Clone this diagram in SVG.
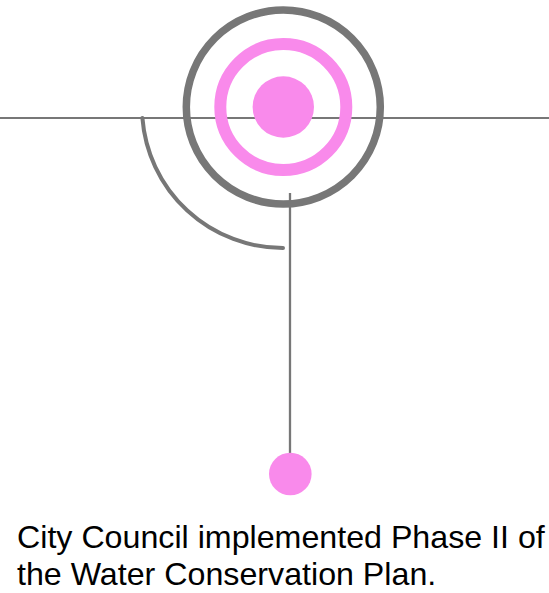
<svg xmlns="http://www.w3.org/2000/svg" width="549" height="593" viewBox="0 0 549 593">
<style>
.ln{stroke:#777;fill:none}
.pk{fill:#F98AEB}
.tx{font-family:"Liberation Sans",Arial,sans-serif;font-size:32.2px;fill:#000}
</style>
<rect width="549" height="593" fill="#fff"/>
<g id="connectors">
<line class="ln" x1="0" y1="118" x2="549" y2="118" stroke-width="2"/>
<path class="ln" d="M142.4 118 A141 141 0 0 0 283 248" stroke-width="4" stroke-linecap="round"/>
<line class="ln" x1="290" y1="193" x2="290" y2="460" stroke-width="2.3"/>
</g>
<g id="target">
<circle cx="283.3" cy="107" r="97" fill="none" stroke="#777" stroke-width="7.5"/>
<circle cx="283.3" cy="107" r="63" fill="none" stroke="#F98AEB" stroke-width="12"/>
<circle class="pk" cx="283.3" cy="107" r="30.7"/>
</g>
<g id="event">
<circle class="pk" cx="290.3" cy="474" r="21.3"/>
<text class="tx" x="17" y="548">City Council implemented Phase II of</text>
<text class="tx" x="17" y="585">the Water Conservation Plan.</text>
</g>
</svg>
